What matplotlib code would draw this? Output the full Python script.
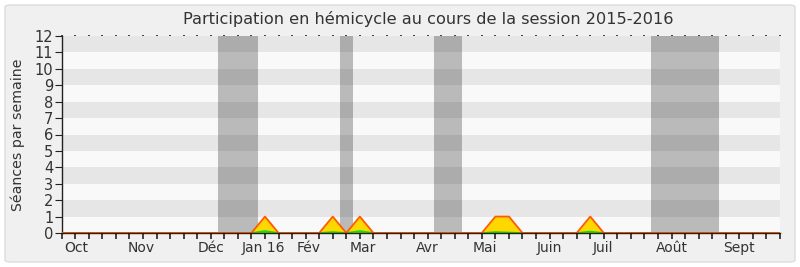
import matplotlib
matplotlib.use("Agg")
import matplotlib.pyplot as plt
from matplotlib.patches import FancyBboxPatch
import numpy as np

# Weekly series for the 2015-2016 session (week index 0..53)
weeks = list(range(54))
seances = [0] * 54
for w in (15, 20, 22, 32, 33, 39):
    seances[w] = 1
interventions = [0] * 54
for w, v in ((15, 0.12), (20, 0.06), (22, 0.12), (32, 0.06), (33, 0.03), (39, 0.09)):
    interventions[w] = v

# Parliamentary recess periods (in weeks)
vacances = [(11.5, 14.5), (20.5, 21.5), (27.5, 29.5), (43.5, 48.5)]

# Month labels
mois = ["Oct", "Nov", "Déc", "Jan 16", "Fév", "Mar", "Avr", "Mai", "Juin", "Juil", "Août", "Sept"]
mois_pos = [1.1, 5.9, 11.0, 14.9, 18.2, 22.2, 27.0, 31.2, 36.0, 39.9, 45.0, 50.0]

y_max = 12

fig = plt.figure(figsize=(8, 2.67), dpi=100)
fig.patch.set_facecolor("white")
frame = FancyBboxPatch((5 / 800, 5 / 267), 790 / 800, 257 / 267,
                       boxstyle="round,pad=0,rounding_size=0.008",
                       transform=fig.transFigure, facecolor="#f0f0f0",
                       edgecolor="#dcdcdc", linewidth=1.0, zorder=-10)
fig.patches.append(frame)

ax = fig.add_axes([61.7 / 800, 34 / 267, (780 - 61.7) / 800, (233 - 36) / 267])
ax.set_zorder(1)
ax.set_facecolor("#f9f9f9")

# Alternating horizontal bands
for k in range(1, y_max, 2):
    ax.axhspan(k, k + 1, color="#e6e6e6", lw=0, zorder=0)

# Recess shading
for a, b in vacances:
    ax.axvspan(a, b, color="black", alpha=0.25, lw=0, zorder=1)

x = np.array(weeks)
ax.fill_between(x, 0, seances, color="#ffd700", lw=0, zorder=2)
ax.fill_between(x, 0, interventions, color="#22ee22", lw=0, zorder=3)
ax.plot(x, interventions, color="#11dd11", lw=1.2, zorder=3)
ax.plot(x, seances, color="#ff5a00", lw=1.3, zorder=4)

ax.set_xlim(0, 53)
ax.set_ylim(0, y_max)

for s in ("top", "right"):
    ax.spines[s].set_visible(False)
ax.spines["left"].set_color("#222222")
ax.spines["bottom"].set_color("#3a1a10")
ax.spines["bottom"].set_zorder(5)
ax.spines["left"].set_linewidth(1.0)
ax.spines["bottom"].set_linewidth(1.0)

ax.set_yticks(range(0, y_max + 1))
ax.tick_params(axis="y", direction="out", length=5, width=0.8, color="#222222",
               labelsize=10.5, labelcolor="#333333", pad=1)

# Month labels on the x axis
ax.set_xticks(mois_pos)
ax.set_xticklabels(mois)
ax.tick_params(axis="x", length=0, labelsize=10, labelcolor="#333333", pad=6)

# Weekly marks: ticks below the axis, dots along the top edge
data_per_px = y_max / (233 - 36)
ax.vlines(weeks, -6 * data_per_px, 0, colors="#111111", lw=1.1,
          clip_on=False, zorder=6)
ax.vlines(weeks, y_max, y_max + 1.5 * data_per_px, colors="#111111", lw=1.1,
          clip_on=False, zorder=6)

ax.set_ylabel("Séances par semaine", fontsize=10.2, color="#333333", labelpad=7)
fig.text(428 / 800, 1 - 19 / 267, "Participation en hémicycle au cours de la session 2015-2016",
         ha="center", va="center", fontsize=11.6, color="#333333")

fig.savefig("out.png", dpi=100, facecolor=fig.get_facecolor())
